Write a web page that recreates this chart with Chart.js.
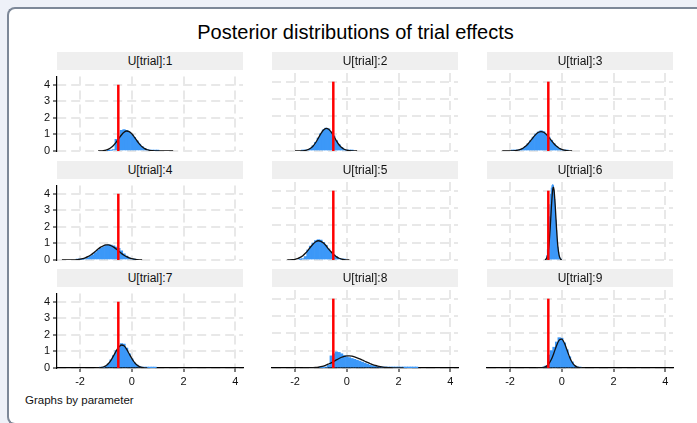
<!DOCTYPE html>
<html>
<head>
<meta charset="utf-8">
<script src="https://cdn.jsdelivr.net/npm/chart.js@4.4.0/dist/chart.umd.min.js"></script>
<style>
  html, body { margin: 0; padding: 0; }
  body {
    width: 697px; height: 423px; overflow: hidden; position: relative;
    background: #eef1f8;
    font-family: "Liberation Sans", Arial, sans-serif;
  }
  #frame {
    position: absolute; left: 7px; top: 7px; width: 740px; height: 418px;
    box-sizing: border-box; background: #fff;
    border-left: 2px solid #7d8898; border-top: 2px solid #7d8898; border-bottom: 2px solid #7d8898;
    border-top-left-radius: 8px; border-bottom-left-radius: 8px;
  }
  #title {
    position: absolute; left: 0; top: 22px; width: 711px; text-align: center;
    font-size: 20px; line-height: 20px; color: #000;
  }
  .strip {
    position: absolute; height: 18px; line-height: 18px; background: #efefef;
    text-align: center; font-size: 12px; color: #111; z-index: 2;
  }
  canvas { position: absolute; z-index: 1; }
  #note {
    position: absolute; left: 25px; top: 393px; font-size: 11.5px; line-height: 14px; color: #111;
  }
</style>
</head>
<body>
<div id="frame"></div>
<div id="title">Posterior distributions of trial effects</div>
<div id="note">Graphs by parameter</div>
<script>
// ===== DATA =====
const panelTitles = ["U[trial]:1", "U[trial]:2", "U[trial]:3",
                     "U[trial]:4", "U[trial]:5", "U[trial]:6",
                     "U[trial]:7", "U[trial]:8", "U[trial]:9"];
const xTicks = [-2, 0, 2, 4];
const yTicks = [0, 1, 2, 3, 4];
const xMin = -2.89, xMax = 4.30;
const yMin = 0, yMax = 4.5;

// red reference line (true effect)
const trueEffect = -0.52;
const trueLineTop = 4;

// histograms: [bin centre, density]
const hist1 = [[-0.9,0.01],[-0.8,0.03],[-0.7,0.08],[-0.6,0.7],[-0.5,0.9],[-0.4,1.25],[-0.3,1.3],[-0.2,1.25],[-0.1,1.15],[0.0,1.0],[0.1,0.82],[0.2,0.62],[0.3,0.42],[0.4,0.27],[0.5,0.16],[0.6,0.09],[0.7,0.05],[0.8,0.03],[0.9,0.015],[1.0,0.01]];
const hist2 = [[-1.7,0.01],[-1.6,0.03],[-1.5,0.07],[-1.4,0.15],[-1.3,0.3],[-1.2,0.5],[-1.1,0.75],[-1.0,1.0],[-0.9,1.22],[-0.8,1.32],[-0.7,1.28],[-0.6,1.1],[-0.5,0.87],[-0.4,0.6],[-0.3,0.37],[-0.2,0.21],[-0.1,0.1],[0.0,0.045],[0.1,0.02],[0.2,0.008]];
const hist3 = [[-1.9,0.01],[-1.8,0.02],[-1.7,0.05],[-1.6,0.09],[-1.5,0.16],[-1.4,0.27],[-1.3,0.42],[-1.2,0.6],[-1.1,0.8],[-1.0,0.98],[-0.9,1.1],[-0.8,1.17],[-0.7,1.12],[-0.6,0.98],[-0.5,0.8],[-0.4,0.62],[-0.3,0.42],[-0.2,0.26],[-0.1,0.15],[0.0,0.08],[0.1,0.04],[0.2,0.02]];
const hist4 = [[-2.1,0.01],[-2.0,0.02],[-1.9,0.04],[-1.8,0.08],[-1.7,0.14],[-1.6,0.22],[-1.5,0.32],[-1.4,0.45],[-1.3,0.58],[-1.2,0.7],[-1.1,0.8],[-1.0,0.88],[-0.9,0.92],[-0.8,0.9],[-0.7,0.85],[-0.6,0.78],[-0.5,0.7],[-0.4,0.55],[-0.3,0.38],[-0.2,0.24],[-0.1,0.13],[0.0,0.06],[0.1,0.02]];
const hist5 = [[-1.8,0.03],[-1.7,0.08],[-1.6,0.2],[-1.5,0.58],[-1.4,0.8],[-1.3,0.98],[-1.2,1.12],[-1.1,1.17],[-1.0,1.15],[-0.9,1.02],[-0.8,0.85],[-0.7,0.64],[-0.6,0.45],[-0.5,0.3],[-0.4,0.18],[-0.3,0.1],[-0.2,0.05],[-0.1,0.02]];
const hist6 = [[-0.6,0.08],[-0.575,0.25],[-0.55,0.6],[-0.525,1.15],[-0.5,1.8],[-0.475,2.5],[-0.45,3.2],[-0.425,3.8],[-0.4,4.15],[-0.375,4.3],[-0.35,4.35],[-0.325,4.3],[-0.3,4.0],[-0.275,3.5],[-0.25,2.9],[-0.225,2.3],[-0.2,1.7],[-0.175,1.15],[-0.15,0.75],[-0.125,0.45],[-0.1,0.25],[-0.075,0.12],[-0.05,0.06],[-0.025,0.02]];
const hist7 = [[-1.2,0.01],[-1.1,0.04],[-1.0,0.1],[-0.9,0.25],[-0.8,0.5],[-0.7,0.75],[-0.6,1.05],[-0.5,1.3],[-0.4,1.47],[-0.3,1.45],[-0.2,1.2],[-0.1,0.85],[0.0,0.55],[0.1,0.32],[0.2,0.17],[0.3,0.08],[0.4,0.04],[0.5,0.02],[0.6,0.01],[0.7,0.01],[0.8,0.005],[0.9,0.003]];
const hist8 = [[-1.0,0.01],[-0.9,0.02],[-0.8,0.04],[-0.7,0.15],[-0.6,0.7],[-0.5,0.82],[-0.4,0.93],[-0.3,0.9],[-0.2,0.82],[-0.1,0.72],[0.0,0.65],[0.1,0.6],[0.2,0.55],[0.3,0.5],[0.4,0.45],[0.5,0.4],[0.6,0.34],[0.7,0.28],[0.8,0.22],[0.9,0.17],[1.0,0.13],[1.1,0.1],[1.2,0.07],[1.3,0.05],[1.4,0.035],[1.5,0.025],[1.6,0.018],[1.7,0.013],[1.8,0.01],[1.9,0.008],[2.0,0.006],[2.1,0.005],[2.2,0.004],[2.3,0.003],[2.4,0.003],[2.5,0.002],[2.6,0.002],[2.7,0.001]];
const hist9 = [[-0.7,0.02],[-0.6,0.12],[-0.5,0.75],[-0.4,1.0],[-0.3,1.2],[-0.2,1.5],[-0.1,1.75],[0.0,1.72],[0.1,1.45],[0.2,1.05],[0.3,0.65],[0.4,0.35],[0.5,0.15],[0.6,0.06],[0.7,0.02]];

// fitted density curves: [x, density]
const dens1 = [[-1.3,0.004],[-1.2,0.01],[-1.1,0.025],[-1.0,0.056],[-0.9,0.11],[-0.8,0.21],[-0.7,0.35],[-0.6,0.54],[-0.5,0.76],[-0.4,0.97],[-0.3,1.13],[-0.2,1.21],[-0.1,1.17],[0.0,1.04],[0.1,0.84],[0.2,0.62],[0.3,0.42],[0.4,0.26],[0.5,0.145],[0.6,0.075],[0.7,0.035],[0.8,0.015],[0.9,0.007],[1.0,0.004],[1.2,0.002],[1.4,0.001],[1.6,0]];
const dens2 = [[-2.0,0],[-1.9,0.001],[-1.8,0.004],[-1.7,0.012],[-1.6,0.031],[-1.5,0.074],[-1.4,0.155],[-1.3,0.29],[-1.2,0.49],[-1.1,0.74],[-1.0,1.0],[-0.9,1.21],[-0.8,1.31],[-0.7,1.26],[-0.6,1.09],[-0.5,0.85],[-0.4,0.58],[-0.3,0.36],[-0.2,0.2],[-0.1,0.1],[0.0,0.044],[0.1,0.018],[0.2,0.006],[0.3,0.002],[0.4,0]];
const dens3 = [[-2.3,0],[-2.2,0.0005],[-2.1,0.0015],[-2.0,0.004],[-1.9,0.01],[-1.8,0.021],[-1.7,0.046],[-1.6,0.09],[-1.5,0.16],[-1.4,0.27],[-1.3,0.42],[-1.2,0.6],[-1.1,0.79],[-1.0,0.96],[-0.9,1.08],[-0.8,1.12],[-0.7,1.08],[-0.6,0.96],[-0.5,0.79],[-0.4,0.6],[-0.3,0.42],[-0.2,0.27],[-0.1,0.16],[0.0,0.09],[0.1,0.046],[0.2,0.021],[0.3,0.01],[0.4,0.004]];
const dens4 = [[-2.7,0],[-2.6,0.001],[-2.5,0.0014],[-2.4,0.003],[-2.3,0.007],[-2.2,0.013],[-2.1,0.026],[-2.0,0.047],[-1.9,0.08],[-1.8,0.13],[-1.7,0.2],[-1.6,0.29],[-1.5,0.4],[-1.4,0.53],[-1.3,0.66],[-1.2,0.78],[-1.1,0.86],[-1.0,0.91],[-0.9,0.92],[-0.8,0.86],[-0.7,0.78],[-0.6,0.66],[-0.5,0.53],[-0.4,0.4],[-0.3,0.29],[-0.2,0.2],[-0.1,0.13],[0.0,0.08],[0.1,0.047],[0.2,0.026],[0.3,0.013],[0.4,0.005]];
const dens5 = [[-2.3,0.004],[-2.2,0.009],[-2.1,0.02],[-2.0,0.042],[-1.9,0.082],[-1.8,0.15],[-1.7,0.25],[-1.6,0.39],[-1.5,0.56],[-1.4,0.75],[-1.3,0.92],[-1.2,1.05],[-1.1,1.11],[-1.0,1.08],[-0.9,0.98],[-0.8,0.82],[-0.7,0.63],[-0.6,0.46],[-0.5,0.3],[-0.4,0.19],[-0.3,0.1],[-0.2,0.057],[-0.1,0.027],[0.0,0.012],[0.1,0.005]];
const dens6 = [[-0.65,0.01],[-0.6,0.06],[-0.55,0.25],[-0.5,0.77],[-0.45,1.77],[-0.4,3.07],[-0.35,4.06],[-0.325,4.2],[-0.3,4.06],[-0.25,3.07],[-0.2,1.77],[-0.15,0.77],[-0.1,0.25],[-0.05,0.06],[0.0,0.01]];
const dens7 = [[-1.4,0.003],[-1.3,0.008],[-1.2,0.023],[-1.1,0.06],[-1.0,0.135],[-0.9,0.27],[-0.8,0.48],[-0.7,0.75],[-0.6,1.04],[-0.5,1.27],[-0.4,1.39],[-0.3,1.34],[-0.2,1.14],[-0.1,0.86],[0.0,0.58],[0.1,0.34],[0.2,0.18],[0.3,0.084],[0.4,0.034],[0.5,0.012],[0.6,0.004]];
const dens8 = [[-1.7,0.0015],[-1.6,0.003],[-1.5,0.006],[-1.4,0.01],[-1.3,0.018],[-1.2,0.031],[-1.1,0.05],[-1.0,0.077],[-0.9,0.115],[-0.8,0.165],[-0.7,0.23],[-0.6,0.3],[-0.5,0.38],[-0.4,0.47],[-0.3,0.55],[-0.2,0.62],[-0.1,0.67],[0.0,0.7],[0.1,0.7],[0.2,0.68],[0.3,0.64],[0.4,0.59],[0.5,0.53],[0.6,0.46],[0.7,0.39],[0.8,0.32],[0.9,0.26],[1.0,0.2],[1.1,0.15],[1.2,0.11],[1.3,0.08],[1.4,0.056],[1.5,0.038],[1.6,0.025],[1.7,0.016],[1.8,0.01],[1.9,0.006],[2.0,0.003],[2.2,0.001]];
const dens9 = [[-1.0,0],[-0.9,0.002],[-0.8,0.008],[-0.7,0.03],[-0.6,0.092],[-0.5,0.24],[-0.4,0.5],[-0.3,0.88],[-0.2,1.3],[-0.1,1.61],[0.0,1.67],[0.1,1.44],[0.2,1.05],[0.3,0.64],[0.4,0.33],[0.5,0.14],[0.6,0.049],[0.7,0.015],[0.8,0.004],[0.9,0.001]];

const hists = [hist1, hist2, hist3, hist4, hist5, hist6, hist7, hist8, hist9];
const densities = [dens1, dens2, dens3, dens4, dens5, dens6, dens7, dens8, dens9];

// ===== LAYOUT =====
const colLeft = [57, 272, 487];
const rowTop = [73, 182, 290];
const plotW = 186, plotH = 78;
const padL = 32, padT = 6, padR = 8, padB = 24;
const FONT = "'Liberation Sans', Arial, sans-serif";

function toPoints(pairs) {
    return pairs.map(p => ({ x: p[0], y: p[1] }));
}

function makePanel(i) {
    const col = i % 3;
    const row = Math.floor(i / 3);
    const left = colLeft[col];
    const top = rowTop[row];
    const showY = col === 0;
    const showX = row === 2;

    const strip = document.createElement("div");
    strip.className = "strip";
    strip.style.left = left + "px";
    strip.style.top = (top - 21) + "px";
    strip.style.width = plotW + "px";
    strip.textContent = panelTitles[i];
    document.body.appendChild(strip);

    const canvas = document.createElement("canvas");
    canvas.width = padL + plotW + padR;
    canvas.height = padT + plotH + padB;
    canvas.style.left = (left - padL) + "px";
    canvas.style.top = (top - padT) + "px";
    document.body.appendChild(canvas);

    new Chart(canvas.getContext("2d"), {
        type: "bar",
        data: {
            datasets: [
                {
                    type: "line",
                    data: [{ x: trueEffect, y: 0 }, { x: trueEffect, y: trueLineTop }],
                    borderColor: "#ff0000",
                    borderWidth: 2.5,
                    pointRadius: 0,
                    order: 1
                },
                {
                    type: "line",
                    data: toPoints(densities[i]),
                    borderColor: "#111111",
                    borderWidth: 1.3,
                    pointRadius: 0,
                    cubicInterpolationMode: "monotone",
                    order: 2
                },
                {
                    type: "bar",
                    data: toPoints(hists[i]),
                    backgroundColor: "#3c98f8",
                    borderWidth: 0,
                    barPercentage: 1,
                    categoryPercentage: 1,
                    order: 3
                }
            ]
        },
        options: {
            responsive: false,
            animation: false,
            devicePixelRatio: 1,
            layout: { padding: { left: 0, top: padT, right: padR, bottom: 0 } },
            plugins: { legend: { display: false }, tooltip: { enabled: false } },
            scales: {
                x: {
                    type: "linear",
                    min: xMin,
                    max: xMax,
                    offset: false,
                    afterBuildTicks: s => { s.ticks = xTicks.map(v => ({ value: v })); },
                    afterFit: s => { s.height = padB; },
                    grid: { color: "#e8e8e8", lineWidth: 2, offset: false,
                            drawTicks: showX, tickLength: 4, tickColor: "#000", tickWidth: 1 },
                    border: { display: showX, color: "#000", width: 1.2, dash: [9, 5] },
                    ticks: { display: showX, padding: 3, color: "#111", maxRotation: 0, autoSkip: false,
                             font: { family: FONT, size: 11 }, callback: v => String(v) }
                },
                y: {
                    type: "linear",
                    position: "left",
                    min: yMin,
                    max: yMax,
                    afterBuildTicks: s => { s.ticks = yTicks.map(v => ({ value: v })); },
                    afterFit: s => { s.width = padL; },
                    grid: { color: "#e8e8e8", lineWidth: 2,
                            drawTicks: showY, tickLength: 4, tickColor: "#000", tickWidth: 1 },
                    border: { display: showY, color: "#000", width: 1.2, dash: [9, 5] },
                    ticks: { display: showY, padding: 3, color: "#111",
                             font: { family: FONT, size: 11 }, callback: v => String(v) }
                }
            }
        }
    });
}

for (let i = 0; i < panelTitles.length; i++) {
    makePanel(i);
}
</script>
</body>
</html>
